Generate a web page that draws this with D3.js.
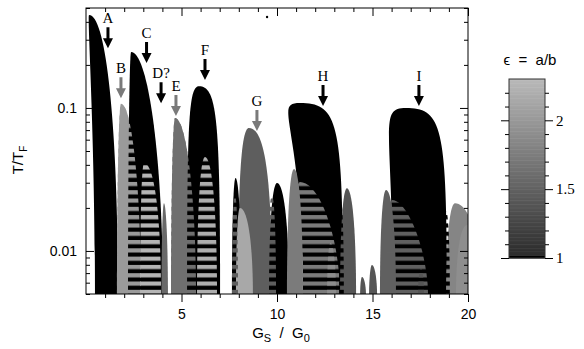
<!DOCTYPE html>
<html>
<head>
<meta charset="utf-8">
<script src="https://cdn.jsdelivr.net/npm/d3@7"></script>
<style>
  body { margin: 0; background: #fff; }
  svg { display: block; }
  .axis text { font-family: "Liberation Sans", Arial, sans-serif; font-size: 14px; fill: #000; }
  .title { font-family: "Liberation Sans", Arial, sans-serif; font-size: 15px; white-space: pre; }
  .marker { font-family: "Liberation Serif", "Times New Roman", serif; font-size: 15px; }
</style>
</head>
<body>
<svg id="chart" width="584" height="349"></svg>
<script>
// each region: [G left foot, G at top, G right foot, T/T_F at top, eps = a/b, roundness, G of left shoulder (optional)]
const solidRegions = [
  [0.47, 0.16, 1.68, 0.447, 1.00, 0.60, 0.05],   // A
  [1.62, 1.83, 2.88, 0.107, 2.02, 0.55],         // B
  [2.20, 2.36, 4.03, 0.246, 1.00, 0.55],         // C
  [3.95, 4.08, 4.29, 0.0216, 1.57, 0.55],        // D?
  [4.45, 4.66, 5.76, 0.0851, 1.63, 0.55],        // E
  [5.29, 5.92, 7.02, 0.142, 1.00, 0.85],         // F
  [7.96, 8.53, 9.74, 0.0725, 1.47, 0.70],        // G
  [7.64, 7.83, 8.12, 0.0324, 1.00, 0.60],
  [7.85, 8.06, 8.74, 0.0200, 2.15, 0.60],
  [9.58, 10.00, 10.63, 0.0299, 1.00, 0.60],
  [11.36, 11.20, 13.46, 0.1083, 1.00, 0.90, 9.74], // H
  [10.52, 10.89, 11.36, 0.0374, 1.74, 0.60],
  [13.30, 13.66, 14.14, 0.0275, 1.40, 0.60],
  [14.35, 14.45, 14.66, 0.00658, 1.40, 0.55],
  [14.82, 14.97, 15.24, 0.00798, 1.40, 0.55],
  [16.07, 16.75, 18.90, 0.100, 1.00, 0.90, 15.29], // I
  [15.39, 15.71, 16.23, 0.0267, 1.49, 0.60],
  [18.85, 19.32, 20.63, 0.0216, 1.83, 0.60],
  [19.37, 19.95, 20.90, 0.0152, 1.91, 0.60]
];

// overlapping regions, drawn as horizontal stripes on top
const hatchedRegions = [
  [1.62, 1.83, 2.88, 0.107, 2.02, 0.55],
  [2.83, 3.04, 3.93, 0.0412, 2.26, 0.60],
  [4.45, 4.66, 5.76, 0.0851, 1.63, 0.55],
  [5.81, 6.23, 6.86, 0.0454, 2.20, 0.60],
  [7.64, 7.80, 7.96, 0.0246, 1.47, 0.60],
  [9.48, 9.74, 9.95, 0.0240, 1.47, 0.60],
  [10.68, 11.20, 13.30, 0.0303, 1.74, 0.50],
  [12.62, 12.80, 13.09, 0.0114, 1.90, 0.55],
  [13.25, 13.35, 13.50, 0.0220, 1.00, 0.60],
  [15.71, 16.02, 17.91, 0.0227, 1.49, 0.45],
  [17.38, 17.54, 17.70, 0.0076, 1.40, 0.55],
  [18.74, 18.85, 19.05, 0.0190, 1.00, 0.60]
];

const arrowLabels = ['A', 'B', 'C', 'D?', 'E', 'F', 'G', 'H', 'I'];
const arrowG      = [1.15, 1.83, 3.17, 3.93, 4.71, 6.23, 8.95, 12.41, 17.43];
const arrowTipT   = [0.262, 0.117, 0.206, 0.108, 0.0878, 0.157, 0.069, 0.103, 0.103];
const arrowIsGray = [false, true, false, false, true, false, true, false, false];

const strayPoint = [9.48, 0.433];

const xMajorTicks = [5, 10, 15, 20];
const yMajorTicks = [0.01, 0.1];
const epsMajorTicks = [1, 1.5, 2];
const epsRange = [1, 2.3];

const svg = d3.select('#chart');
const defs = svg.append('defs');

const x = d3.scaleLinear().domain([0, 20]).range([86, 468]);
const y = d3.scaleLog().domain([0.005, 0.5]).range([294, 8]);

const grayRamp = d3.scaleLinear().domain([1.02, 2.3]).range(['#2c2c2c', '#b9b9b9']).clamp(true);
const gray = v => v < 1.02 ? '#000' : grayRamp(v);

const [x0, x1] = x.range();
const [yb, yt] = y.range();

defs.append('clipPath').attr('id', 'plot-clip')
  .append('rect')
  .attr('x', x0).attr('y', yt)
  .attr('width', x1 - x0).attr('height', yb - yt);

function regionPath([gl, gt, gr, t, , k, gShoulder]) {
  const xl = x(gl), xt = x(gt), xr = x(gr), ytop = y(t), ybot = yb + 2;
  const h = ybot - ytop;
  const xs = gShoulder === undefined ? xt - k * (xt - xl) : x(gShoulder);
  const p = d3.path();
  p.moveTo(xl, ybot);
  p.bezierCurveTo(xl, ybot - k * h, xs, ytop, xt, ytop);
  p.bezierCurveTo(xt + k * (xr - xt), ytop, xr, ybot - k * h, xr, ybot);
  p.closePath();
  return p.toString();
}

// stripe patterns, one per hatched region colour
defs.selectAll('pattern')
  .data(hatchedRegions)
  .join('pattern')
  .attr('id', (d, i) => 'hatch' + i)
  .attr('patternUnits', 'userSpaceOnUse')
  .attr('width', 10)
  .attr('height', 8.3)
  .attr('y', 165.3)
  .append('rect')
  .attr('width', 10)
  .attr('height', 4.2)
  .attr('fill', d => gray(d[4]));

const plot = svg.append('g').attr('clip-path', 'url(#plot-clip)');

plot.selectAll('path.solid')
  .data(solidRegions)
  .join('path')
  .attr('class', 'solid')
  .attr('d', regionPath)
  .attr('fill', d => gray(d[4]));

plot.selectAll('path.hatch')
  .data(hatchedRegions)
  .join('path')
  .attr('class', 'hatch')
  .attr('d', regionPath)
  .attr('fill', (d, i) => `url(#hatch${i})`);

plot.append('circle')
  .attr('cx', x(strayPoint[0]))
  .attr('cy', y(strayPoint[1]))
  .attr('r', 1.2)
  .attr('fill', '#000');

// axes
const xMinor = d3.range(1, 20).filter(v => v % 5 !== 0);
const yMinor = y.ticks().filter(v => !yMajorTicks.some(m => Math.abs(m - v) < 1e-9));

function addAxis(axis, transform, size, values, labels) {
  const g = svg.append('g')
    .attr('class', 'axis')
    .attr('transform', transform)
    .call(axis.tickValues(values).tickSize(size)
      .tickFormat(labels ? d => String(d) : '')
      .tickPadding(labels ? 7 : 0));
  g.select('.domain').remove();
  g.selectAll('line').attr('stroke', '#000');
  return g;
}

addAxis(d3.axisBottom(x), `translate(0,${yb})`, 4, xMinor, false);
addAxis(d3.axisBottom(x), `translate(0,${yb})`, 8, xMajorTicks, true);
addAxis(d3.axisTop(x), `translate(0,${yt})`, -4, xMinor, false);
addAxis(d3.axisTop(x), `translate(0,${yt})`, -8, xMajorTicks, false);
addAxis(d3.axisLeft(y), `translate(${x0},0)`, -4, yMinor, false);
const yLab = addAxis(d3.axisLeft(y), `translate(${x0},0)`, -8, yMajorTicks, true);
yLab.selectAll('text').attr('x', -9);
addAxis(d3.axisRight(y), `translate(${x1},0)`, -4, yMinor, false);
addAxis(d3.axisRight(y), `translate(${x1},0)`, -8, yMajorTicks, false);

svg.append('rect')
  .attr('x', x0).attr('y', yt)
  .attr('width', x1 - x0).attr('height', yb - yt)
  .attr('fill', 'none')
  .attr('stroke', '#000')
  .attr('stroke-width', 1);

// arrows and labels
const arrows = svg.append('g');
arrowLabels.forEach((label, i) => {
  const ax = x(arrowG[i]), ay = y(arrowTipT[i]);
  const col = arrowIsGray[i] ? '#7a7a7a' : '#000';
  const p = d3.path();
  p.moveTo(ax, ay);
  p.lineTo(ax - 5, ay - 10);
  p.lineTo(ax - 1.5, ay - 10);
  p.lineTo(ax - 1.5, ay - 21);
  p.lineTo(ax + 1.5, ay - 21);
  p.lineTo(ax + 1.5, ay - 10);
  p.lineTo(ax + 5, ay - 10);
  p.closePath();
  arrows.append('path').attr('d', p.toString()).attr('fill', col);
  arrows.append('text')
    .attr('class', 'marker')
    .attr('x', ax)
    .attr('y', ay - 25)
    .attr('text-anchor', 'middle')
    .attr('fill', '#000')
    .text(label);
});

// axis titles
const xTitle = svg.append('text').attr('class', 'title')
  .attr('x', 281).attr('y', 338).attr('text-anchor', 'middle');
xTitle.append('tspan').text('G');
xTitle.append('tspan').attr('dy', 4).attr('font-size', 11).text('S');
xTitle.append('tspan').attr('dy', -4).text('  /  G');
xTitle.append('tspan').attr('dy', 4).attr('font-size', 11).text('0');

const yTitle = svg.append('text').attr('class', 'title')
  .attr('transform', 'translate(23,160) rotate(-90)')
  .attr('text-anchor', 'middle');
yTitle.append('tspan').text('T/T');
yTitle.append('tspan').attr('dy', 4).attr('font-size', 10).text('F');

// colour bar
const cb = d3.scaleLinear().domain(epsRange).range([258, 79]);
const cbX0 = 509, cbX1 = 545;
const cbar = svg.append('g').attr('class', 'cbar');
const steps = d3.range(0, 130).map(i => epsRange[0] + i * 0.01);
cbar.selectAll('rect.step')
  .data(steps)
  .join('rect')
  .attr('class', 'step')
  .attr('x', cbX0)
  .attr('width', cbX1 - cbX0)
  .attr('y', d => cb(d + 0.01))
  .attr('height', d => cb(d) - cb(d + 0.01) + 0.5)
  .attr('fill', d => gray(d + 0.005));
cbar.append('rect')
  .attr('x', cbX0).attr('y', cb(epsRange[1]))
  .attr('width', cbX1 - cbX0).attr('height', cb(epsRange[0]) - cb(epsRange[1]))
  .attr('fill', 'none').attr('stroke', '#333').attr('stroke-width', 1);

const epsMinor = d3.range(11, 23).map(i => i / 10).filter(v => !epsMajorTicks.includes(v));
function cbAxis(axis, transform, size, values, labels) {
  const g = cbar.append('g')
    .attr('transform', transform)
    .call(axis.tickValues(values).tickSize(size)
      .tickFormat(labels ? d => String(d) : '').tickPadding(3));
  g.select('.domain').remove();
  g.selectAll('line').attr('stroke', '#000');
  g.selectAll('text').attr('fill', '#000').attr('font-size', 15)
    .attr('font-family', '"Liberation Serif", "Times New Roman", serif');
}
cbAxis(d3.axisLeft(cb), `translate(${cbX0},0)`, 4, epsMinor, false);
cbAxis(d3.axisLeft(cb), `translate(${cbX0},0)`, 8, epsMajorTicks, false);
cbAxis(d3.axisRight(cb), `translate(${cbX1},0)`, 4, epsMinor, false);
cbAxis(d3.axisRight(cb), `translate(${cbX1},0)`, 8, epsMajorTicks, true);

svg.append('text').attr('class', 'title')
  .attr('x', 530).attr('y', 65).attr('text-anchor', 'middle')
  .text('\u03F5  =  a/b');
</script>
</body>
</html>
